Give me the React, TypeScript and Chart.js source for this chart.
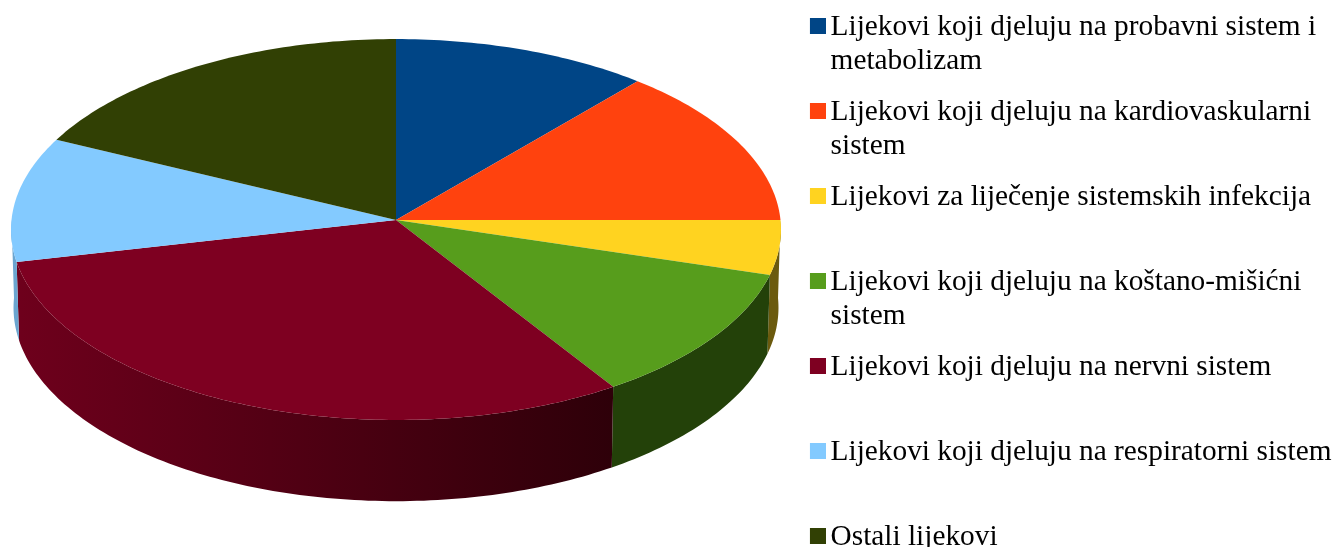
import React, { useEffect, useRef } from "react";
import { Chart, registerables } from "chart.js";

Chart.register(...registerables);

// Values (percent of the pie)
const categories: string[][] = [
  ["Lijekovi koji djeluju na probavni sistem i", "metabolizam"],
  ["Lijekovi koji djeluju na kardiovaskularni", "sistem"],
  ["Lijekovi za liječenje sistemskih infekcija", ""],
  ["Lijekovi koji djeluju na koštano-mišićni", "sistem"],
  ["Lijekovi koji djeluju na nervni sistem", ""],
  ["Lijekovi koji djeluju na respiratorni sistem", ""],
  ["Ostali lijekovi"],
];
const values = [11.3, 13.7, 4.6, 11.3, 30.6, 10.6, 17.9];
const faceColors = ["#004586", "#ff420e", "#ffd320", "#579d1c", "#7e0021", "#83caff", "#314004"];
const wallColors = ["#002a50", "#8f2508", "#6b5a0e", "#234109", "#5a0018", "#6ba5d0", "#1d2602"];
const redWallStops = ["#6e001c", "#2e0009"];

// Perspective of the tilted disc
const APEX_X = 396;
const TOP_RIM = { y: 220, a: 384.5, b: 190 };
const BOTTOM_RIM = { y: 298, a: 382, b: 193 };
const K = -0.05;

type Rim = { y: number; a: number; b: number };

function project(rim: Rim, angle: number): [number, number] {
  const u = Math.cos(angle);
  const v = Math.sin(angle);
  const w = 1 + K * v;
  return [APEX_X + (rim.a * u) / w, rim.y + (rim.b * v) / w];
}

function traceRim(ctx: CanvasRenderingContext2D, rim: Rim, from: number, to: number, start: boolean) {
  const steps = Math.max(2, Math.ceil((Math.abs(to - from) * 180) / Math.PI));
  for (let s = 0; s <= steps; s++) {
    const [x, y] = project(rim, from + ((to - from) * s) / steps);
    if (s === 0 && start) ctx.moveTo(x, y);
    else ctx.lineTo(x, y);
  }
}

const pie3d = {
  id: "pie3d",
  beforeDatasetDraw(chart: any, args: any) {
    const ctx: CanvasRenderingContext2D = chart.ctx;
    const arcs: any[] = args.meta.data;
    ctx.save();
    arcs.forEach((arc, i) => {
      const a0 = Math.max(arc.startAngle, 0);
      const a1 = Math.min(arc.endAngle, Math.PI);
      if (a1 <= a0) return;
      ctx.beginPath();
      traceRim(ctx, TOP_RIM, a0, a1, true);
      traceRim(ctx, BOTTOM_RIM, a1, a0, false);
      ctx.closePath();
      if (i === 4) {
        const g = ctx.createLinearGradient(20, 0, 612, 0);
        g.addColorStop(0, redWallStops[0]);
        g.addColorStop(1, redWallStops[1]);
        ctx.fillStyle = g;
      } else {
        ctx.fillStyle = wallColors[i];
      }
      ctx.fill();
    });
    arcs.forEach((arc, i) => {
      ctx.beginPath();
      ctx.moveTo(APEX_X, TOP_RIM.y);
      traceRim(ctx, TOP_RIM, arc.startAngle, arc.endAngle, false);
      ctx.closePath();
      ctx.fillStyle = faceColors[i];
      ctx.fill();
    });
    ctx.restore();
    return false;
  },
};

function swatch(color: string): HTMLCanvasElement {
  const c = document.createElement("canvas");
  c.width = 20;
  c.height = 20;
  const x = c.getContext("2d")!;
  x.fillStyle = color;
  x.fillRect(4, 1, 16, 16);
  return c;
}

export default function App() {
  const ref = useRef<HTMLCanvasElement>(null);
  useEffect(() => {
    document.body.style.margin = "0";
    document.body.style.background = "#fff";
    const chart = new Chart(ref.current!, {
      type: "pie",
      data: {
        labels: categories as any,
        datasets: [{ data: values, backgroundColor: faceColors, borderWidth: 0, clip: false as any }],
      },
      options: {
        responsive: false,
        animation: false,
        layout: { padding: { top: -4.665, right: -4.5, bottom: -70, left: 0 } },
        plugins: {
          tooltip: { enabled: false },
          legend: {
            position: "right",
            align: "start",
            labels: {
              color: "#000",
              font: { family: "'Liberation Serif'", size: 29.33, lineHeight: "34px" as any },
              padding: 17,
              boxWidth: 0.01,
              boxHeight: 16,
              usePointStyle: true,
              generateLabels(c: Chart) {
                const base = (Chart as any).overrides.pie.plugins.legend.labels.generateLabels(c);
                return base.map((it: any, i: number) => ({ ...it, pointStyle: swatch(faceColors[i]) }));
              },
            },
          },
        },
      },
      plugins: [pie3d],
    });
    return () => chart.destroy();
  }, []);
  return <canvas ref={ref} width={1337} height={547} style={{ display: "block" }} />;
}
